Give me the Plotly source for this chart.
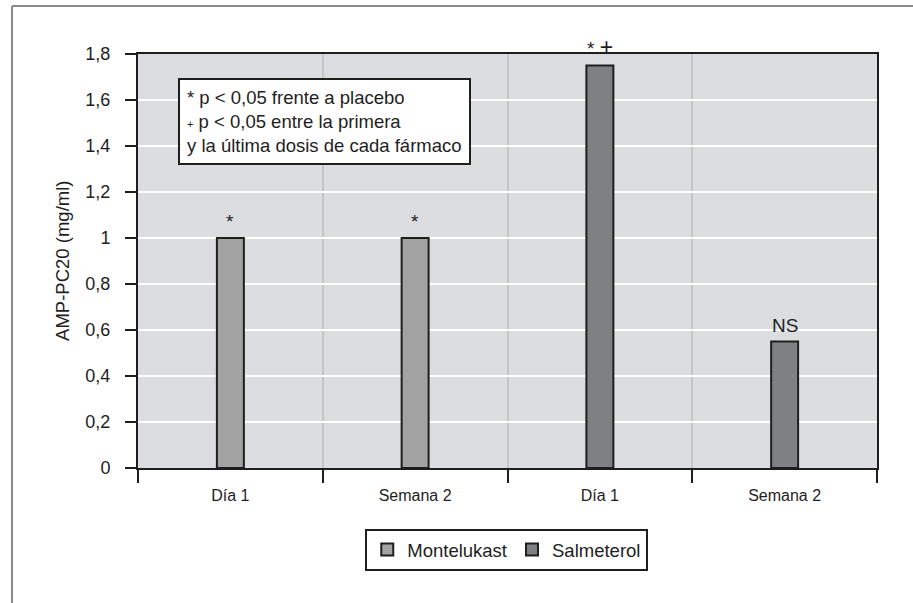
import plotly.graph_objects as go

# Categories along the x axis (two drugs, two time points each)
categories = ["Día 1", "Semana 2", "Día 1", "Semana 2"]
montelukast_x = [0, 1]
montelukast_y = [1.0, 1.0]
salmeterol_x = [2, 3]
salmeterol_y = [1.75, 0.55]
marks = ["*", "*", "* +", "NS"]

y_ticks = [0, 0.2, 0.4, 0.6, 0.8, 1.0, 1.2, 1.4, 1.6, 1.8]
y_ticktext = ["0", "0,2", "0,4", "0,6", "0,8", "1", "1,2", "1,4", "1,6", "1,8"]

FONT = "Liberation Sans, Arial, Helvetica, sans-serif"
INK = "#1e1e1e"
BAR_W = 0.146

fig = go.Figure()
fig.add_trace(go.Bar(
    x=montelukast_x, y=montelukast_y, name="Montelukast", width=BAR_W,
    marker=dict(color="#a2a2a3", line=dict(color=INK, width=2)),
))
fig.add_trace(go.Bar(
    x=salmeterol_x, y=salmeterol_y, name="Salmeterol", width=BAR_W,
    marker=dict(color="#7f8083", line=dict(color=INK, width=2)),
))

# Significance marks above each bar (the "+" glyph drawn a bit larger)
all_x = montelukast_x + salmeterol_x
all_y = montelukast_y + salmeterol_y
for xv, yv, m in zip(all_x, all_y, marks):
    label = m.replace("+", "<span style='font-size:23px'>+</span>")
    fig.add_annotation(
        x=xv, y=yv, text=label, showarrow=False, yanchor="bottom", yshift=4,
        font=dict(family=FONT, size=19, color=INK),
    )

# Note box
fig.add_annotation(
    xref="paper", yref="paper", x=0.054, y=0.942, xanchor="left", yanchor="top",
    text=("* p &lt; 0,05 frente a placebo<br>"
          "<span style='font-size:11px'>+</span> p &lt; 0,05 entre la primera<br>"
          "y la última dosis de cada fármaco"),
    align="left", showarrow=False, bgcolor="white", bordercolor=INK,
    borderwidth=2, borderpad=7,
    font=dict(family=FONT, size=18.5, color=INK),
)

# Y axis title
fig.add_annotation(
    xref="paper", yref="paper", x=-0.103, y=0.5, text="AMP-PC20 (mg/ml)",
    textangle=-90, showarrow=False, xanchor="center", yanchor="middle",
    font=dict(family=FONT, size=18.5, color=INK),
)

# Outer frame (left and top edges)
fig.add_shape(type="line", xref="paper", yref="paper", x0=-0.1705, x1=-0.1705,
              y0=-0.45, y1=1.116, line=dict(color="#8a8a8a", width=2))
fig.add_shape(type="line", xref="paper", yref="paper", x0=-0.1705, x1=1.2,
              y0=1.116, y1=1.116, line=dict(color="#8a8a8a", width=2))

fig.update_layout(
    width=913, height=603,
    margin=dict(l=138, r=36, t=54, b=135),
    paper_bgcolor="white", plot_bgcolor="#dcdde0",
    barmode="overlay",
    font=dict(family=FONT, color=INK),
    showlegend=True,
    legend=dict(
        orientation="h", x=0.499, y=-0.147, xanchor="center", yanchor="top",
        bordercolor=INK, borderwidth=2, bgcolor="white",
        font=dict(family=FONT, size=18.5, color=INK),
        itemwidth=30,
    ),
    xaxis=dict(
        range=[-0.5, 3.5], tickmode="array", tickvals=[0, 1, 2, 3], ticktext=categories,
        ticks="outside", ticklen=12, tickcolor="rgba(0,0,0,0)",
        tickfont=dict(family=FONT, size=16, color=INK),
        showgrid=False, zeroline=False,
        showline=True, linecolor=INK, linewidth=2, mirror=True,
        minor=dict(tickmode="array", tickvals=[-0.5, 0.5, 1.5, 2.5, 3.5],
                   ticks="outside", ticklen=13, tickwidth=2, tickcolor=INK,
                   showgrid=True, gridcolor="#c3c4c6", gridwidth=2),
    ),
    yaxis=dict(
        range=[0, 1.8], tickmode="array", tickvals=y_ticks, ticktext=y_ticktext,
        ticks="outside", ticklen=11, tickwidth=2, tickcolor=INK,
        ticklabelstandoff=11,
        tickfont=dict(family=FONT, size=18, color=INK),
        showgrid=True, gridcolor="white", gridwidth=2, zeroline=False,
        showline=True, linecolor=INK, linewidth=2, mirror=True,
    ),
)

fig.write_html("out.html")
